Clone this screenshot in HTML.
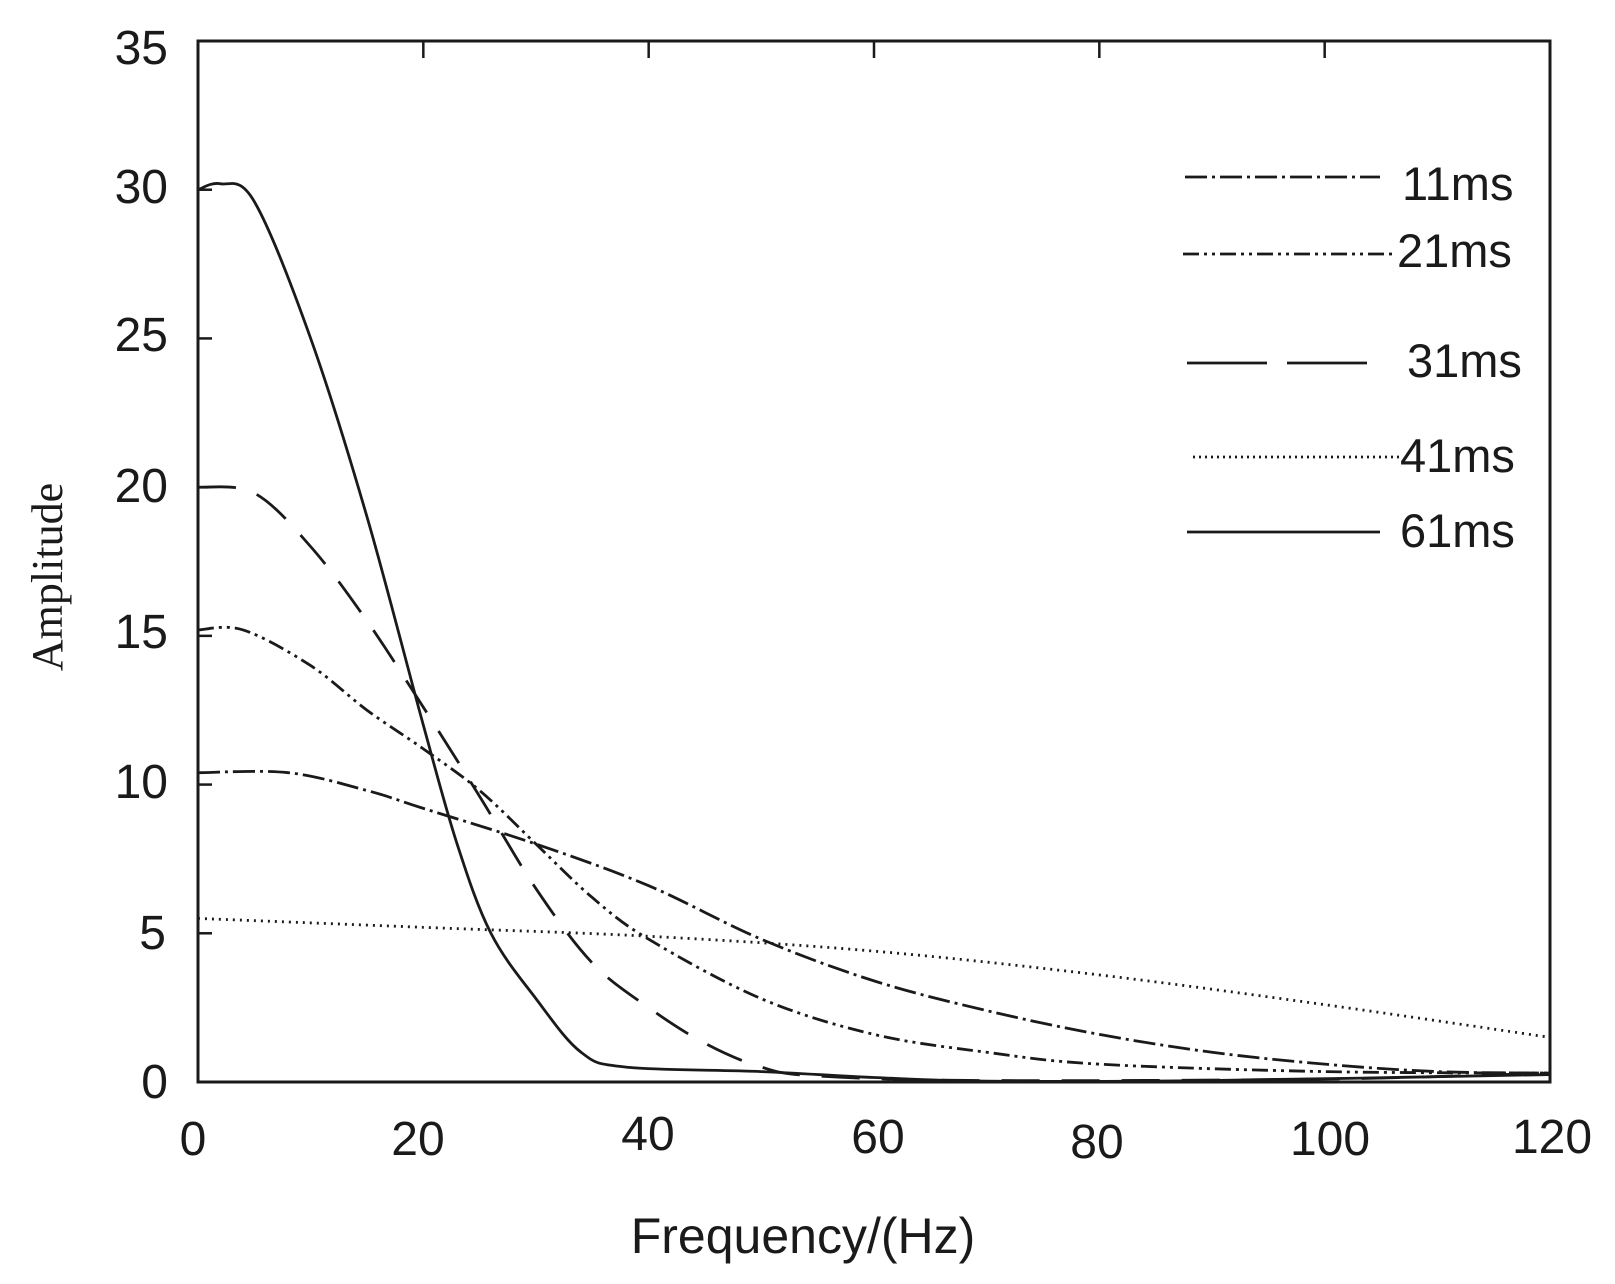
<!DOCTYPE html>
<html><head><meta charset="utf-8"><style>
html,body{margin:0;padding:0;background:#fff;}
svg{display:block;}
text{font-family:"Liberation Sans",sans-serif;fill:#1a1a1a;}
</style></head><body>
<svg id="s" width="1615" height="1284" viewBox="0 0 1615 1284" xmlns="http://www.w3.org/2000/svg">
<rect x="198" y="41" width="1352" height="1041" fill="none" stroke="#1a1a1a" stroke-width="3"/>
<g id="ticks" stroke="#1a1a1a" stroke-width="2.5"></g>
<g font-size="48" text-anchor="middle">
<text x="193" y="1155">0</text><text x="418" y="1155">20</text><text x="648" y="1150">40</text>
<text x="878" y="1153">60</text><text x="1097" y="1158">80</text><text x="1330" y="1155">100</text><text x="1552" y="1153">120</text>
</g>
<g font-size="48" text-anchor="end">
<text x="168" y="1098">0</text><text x="166" y="949">5</text><text x="168" y="798">10</text><text x="168" y="648">15</text>
<text x="168" y="502">20</text><text x="168" y="351">25</text><text x="168" y="203">30</text><text x="168" y="64">35</text>
</g>
<text x="803" y="1253" font-size="50" text-anchor="middle">Frequency/(Hz)</text>
<text transform="translate(62,577) rotate(-90)" font-size="44" text-anchor="middle" style="font-family:'Liberation Serif',serif">Amplitude</text>
<g font-size="47">
<text x="1402" y="200">11ms</text><text x="1397" y="267">21ms</text><text x="1407" y="377">31ms</text>
<text x="1400" y="472">41ms</text><text x="1400" y="547">61ms</text>
</g>
<g id="curves" fill="none" stroke="#1a1a1a" stroke-width="2.8"></g>
</svg>
<script>
var X=function(f){return 198+f*1352/120},Y=function(a){return 1082-a*1041/35};
var t=document.getElementById('ticks'),h='';
for(var i=1;i<6;i++){var x=X(i*20);h+='<line x1="'+x+'" y1="41" x2="'+x+'" y2="58"/>';}
for(var j=1;j<7;j++){var y=Y(j*5);h+='<line x1="198" y1="'+y+'" x2="212" y2="'+y+'"/>';}
t.innerHTML=h;
function path(p){var q=p.map(function(d){return [X(d[0]),Y(d[1])]});var s='M'+q[0][0]+','+q[0][1];
for(var i=0;i<q.length-1;i++){var p0=q[i-1]||q[i],p1=q[i],p2=q[i+1],p3=q[i+2]||p2;
s+=' C'+(p1[0]+(p2[0]-p0[0])/6)+','+(p1[1]+(p2[1]-p0[1])/6)+' '+(p2[0]-(p3[0]-p1[0])/6)+','+(p2[1]-(p3[1]-p1[1])/6)+' '+p2[0]+','+p2[1];}return s;}
var C=[
[[[0,30],[2,30.2],[5,29.6],[10,25],[15,19],[20,12],[23,8],[26,5],[30,2.8],[34,1],[38,0.5],[50,0.35],[60,0.15],[70,0.03],[90,0.05],[120,0.25]],''],
[[[0,20],[5,19.8],[10,18],[15,15.5],[20,12.6],[25,9.6],[30,6.5],[35,4],[40,2.5],[45,1.3],[50,0.5],[55,0.2],[70,0.05],[100,0.1],[120,0.3]],'38,22'],
[[[0,15.2],[4,15.2],[10,14],[15,12.5],[20,11.2],[25,9.8],[30,8],[35,6.2],[40,4.8],[50,2.8],[60,1.6],[70,1],[80,0.6],[100,0.35],[120,0.3]],'16,5,3,5,3,5'],
[[[0,10.4],[8,10.4],[15,9.8],[20,9.2],[30,8],[40,6.6],[50,4.8],[60,3.4],[70,2.4],[80,1.6],[90,1],[100,0.6],[110,0.35],[120,0.3]],'22,5,3,5'],
[[[0,5.5],[20,5.2],[40,4.9],[60,4.4],[80,3.6],[100,2.6],[120,1.5]],'2,5']];
var g=document.getElementById('curves'),o='';
C.forEach(function(c){o+='<path d="'+path(c[0])+'" stroke-dasharray="'+c[1]+'"/>';});
o+='<line x1="1185" y1="177" x2="1380" y2="177" stroke-dasharray="22,5,3,5"/>';
o+='<line x1="1183" y1="254" x2="1395" y2="254" stroke-dasharray="16,5,3,5,3,5"/>';
o+='<line x1="1187" y1="363" x2="1387" y2="363" stroke-dasharray="80,20"/>';
o+='<line x1="1193" y1="457" x2="1400" y2="457" stroke-dasharray="2,4"/>';
o+='<line x1="1187" y1="532" x2="1380" y2="532"/>';
g.innerHTML=o;
</script>
</body></html>
